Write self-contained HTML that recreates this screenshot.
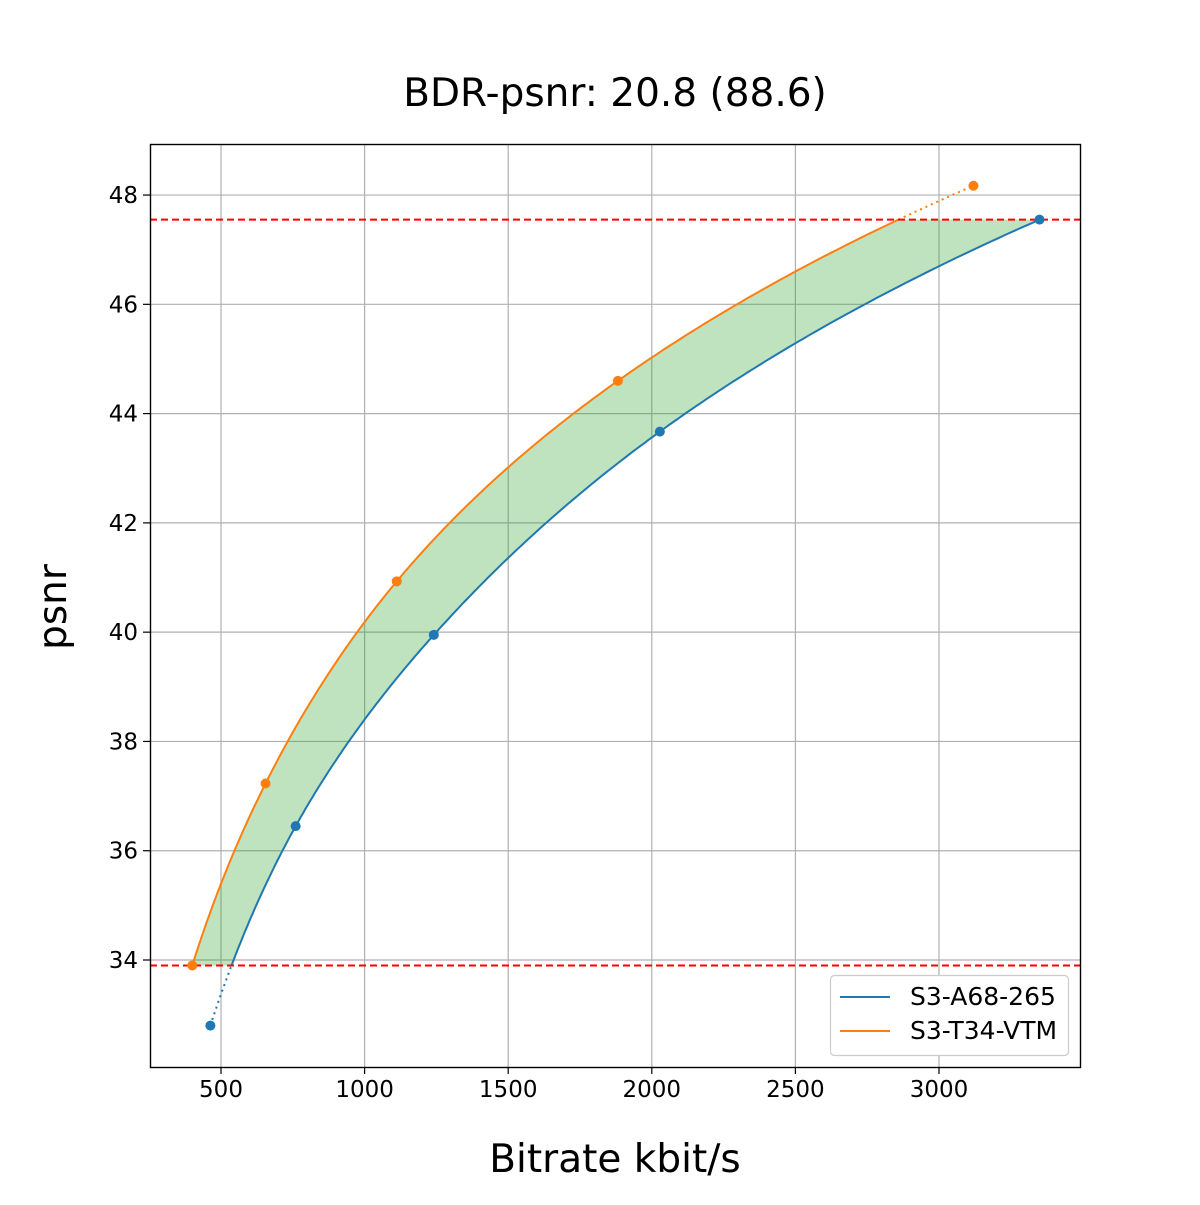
<!DOCTYPE html>
<html><head><meta charset="utf-8"><style>
body{margin:0;background:#fff;}
svg text{font-family:"DejaVu Sans","Liberation Sans",sans-serif;fill:#000;}
</style></head><body>
<svg id="s" width="1200" height="1200" xmlns="http://www.w3.org/2000/svg">
<rect width="1200" height="1200" fill="#fff"/>
<g id="grid" stroke="#b0b0b0" stroke-width="1.2"></g>
<g id="plot"></g>
<rect x="150.5" y="144.5" width="930" height="923" fill="none" stroke="#000" stroke-width="1.4"/>
<g id="ticks"></g>
<text x="615" y="106" font-size="39" text-anchor="middle">BDR-psnr: 20.8 (88.6)</text>
<text x="615" y="1172" font-size="39" text-anchor="middle">Bitrate kbit/s</text>
<text transform="translate(66,607) rotate(-90)" font-size="39" text-anchor="middle">psnr</text>
<rect x="830.5" y="975.5" width="238" height="80" rx="4" fill="#fff" stroke="#ccc" stroke-width="1.2"/>
<line x1="840" y1="997" x2="890" y2="997" stroke="#1f77b4" stroke-width="2"/>
<text x="910" y="1005" font-size="25">S3-A68-265</text>
<line x1="840" y1="1031" x2="890" y2="1031" stroke="#ff7f0e" stroke-width="2"/>
<text x="910" y="1039" font-size="25">S3-T34-VTM</text>
</svg>
<script>
const NS="http://www.w3.org/2000/svg";
function el(p,t,a,txt){const e=document.createElementNS(NS,t);for(const k in a)e.setAttribute(k,a[k]);if(txt!==undefined)e.textContent=txt;p.appendChild(e);return e;}
const X=v=>221+(v-500)*0.2872, Y=v=>960-(v-34)*54.64;
const g=document.getElementById('grid'),tk=document.getElementById('ticks'),pl=document.getElementById('plot');
[500,1000,1500,2000,2500,3000].forEach(v=>{const x=X(v);el(g,'line',{x1:x,y1:144,x2:x,y2:1067});el(tk,'line',{x1:x,y1:1067,x2:x,y2:1074,stroke:'#000','stroke-width':1.2});el(tk,'text',{x:x,y:1097,'font-size':23,'text-anchor':'middle'},v);});
[34,36,38,40,42,44,46,48].forEach(v=>{const y=Y(v);el(g,'line',{x1:150,y1:y,x2:1080,y2:y});el(tk,'line',{x1:143,y1:y,x2:150,y2:y,stroke:'#000','stroke-width':1.2});el(tk,'text',{x:138,y:y+8,'font-size':23,'text-anchor':'end'},v);});
function spline(xs,ys){const n=xs.length,h=[],al=[],l=[1],mu=[0],z=[0],c=new Array(n).fill(0),b=[],d=[];
for(let i=0;i<n-1;i++)h.push(xs[i+1]-xs[i]);
for(let i=1;i<n-1;i++)al[i]=3/h[i]*(ys[i+1]-ys[i])-3/h[i-1]*(ys[i]-ys[i-1]);
for(let i=1;i<n-1;i++){l[i]=2*(xs[i+1]-xs[i-1])-h[i-1]*mu[i-1];mu[i]=h[i]/l[i];z[i]=(al[i]-h[i-1]*z[i-1])/l[i];}
for(let j=n-2;j>=0;j--){c[j]=z[j]-mu[j]*c[j+1];b[j]=(ys[j+1]-ys[j])/h[j]-h[j]*(c[j+1]+2*c[j])/3;d[j]=(c[j+1]-c[j])/(3*h[j]);}
return t=>{let i=0;while(i<n-2&&t>xs[i+1])i++;const dx=t-xs[i];return ys[i]+b[i]*dx+c[i]*dx*dx+d[i]*dx*dx*dx;};}
const B={p:[32.8,36.45,39.95,43.67,47.55],r:[463,760,1241,2028,3350],c:'#1f77b4'};
const O={p:[33.9,37.23,40.93,44.6,48.17],r:[400,655,1112,1882,3120],c:'#ff7f0e'};
[B,O].forEach(s=>{const f=spline(s.p,s.r.map(Math.log));s.f=p=>Math.exp(f(p));});
const lo=33.9,hi=47.55;
function pts(s,a,b){const o=[];for(let i=0;i<=200;i++){const p=a+(b-a)*i/200;o.push([X(s.f(p)),Y(p)]);}return o;}
const oc=pts(O,lo,hi),bc=pts(B,lo,hi);
const poly=oc.concat(bc.slice().reverse()).map(p=>p.join(',')).join(' ');
el(pl,'polygon',{points:poly,fill:'#2ca02c','fill-opacity':0.3,stroke:'none'});
const pth=a=>'M'+a.map(p=>p[0].toFixed(1)+','+p[1].toFixed(1)).join('L');
el(pl,'path',{d:pth(pts(B,B.p[0],lo)),fill:'none',stroke:B.c,'stroke-width':2,'stroke-dasharray':'2,4'});
el(pl,'path',{d:pth(pts(O,hi,O.p[4])),fill:'none',stroke:O.c,'stroke-width':2,'stroke-dasharray':'2,4'});
el(pl,'path',{d:pth(bc),fill:'none',stroke:B.c,'stroke-width':2});
el(pl,'path',{d:pth(oc),fill:'none',stroke:O.c,'stroke-width':2});
[Y(lo),Y(hi)].forEach(y=>el(pl,'line',{x1:150,y1:y,x2:1080,y2:y,stroke:'#ff0000','stroke-width':2,'stroke-dasharray':'7,4'}));
[B,O].forEach(s=>s.p.forEach((p,i)=>el(pl,'circle',{cx:X(s.r[i]),cy:Y(p),r:5,fill:s.c})));
</script>
</body></html>
